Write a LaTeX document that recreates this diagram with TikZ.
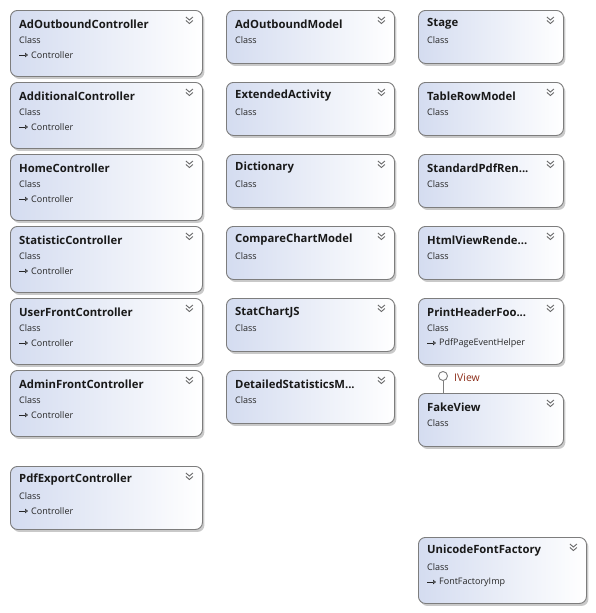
\documentclass[tikz,border=0pt]{standalone}
\usepackage{fontspec}
\setmainfont{Open Sans}
\usetikzlibrary{shadows,calc,arrows.meta}

\definecolor{boxedge}{RGB}{125,125,125}
\definecolor{boxfill}{RGB}{212,220,240}
\definecolor{ifacered}{RGB}{140,45,25}
\definecolor{chev}{RGB}{105,105,105}

\tikzset{
  classbox/.style={draw=boxedge, line width=0.9pt, rounded corners=7pt,
    left color=boxfill, right color=white, anchor=north west, inner sep=0pt,
    drop shadow={shadow xshift=2pt, shadow yshift=-2.5pt, fill=black!35, opacity=0.6}},
  titletext/.style={anchor=west, inner sep=0pt,
    font=\fontsize{11.3}{13}\selectfont\bfseries, text=black!90},
  kindtext/.style={anchor=west, inner sep=0pt,
    font=\fontsize{9}{11}\selectfont, text=black!85},
  basetext/.style={kindtext},
  inherit/.style={-{Triangle[open,length=3pt,width=4.5pt]}, line width=0.6pt, black!85},
  chevron/.style={chev, line width=0.9pt},
  lollipop/.style={circle, draw=boxedge, line width=0.9pt, fill=white,
    minimum size=9pt, inner sep=0pt},
  ifacelabel/.style={anchor=west, inner sep=0pt, text=ifacered,
    font=\fontsize{10.5}{12}\selectfont},
}

% one class shape: name, left, top, width, height, title
\newcommand{\umlclass}[6]{%
  \node[classbox, minimum width=#4pt, minimum height=#5pt] (#1) at (#2,#3) {};
  \node[titletext] (#1-t) at ($(#1.north west)+(9,14)$) {#6};
  \node[kindtext] (#1-k) at ($(#1.north west)+(9,30)$) {Class};
  \draw[chevron] ($(#1.north east)+(-17,7)$) -- ++(3.5,3) -- ++(3.5,-3);
  \draw[chevron] ($(#1.north east)+(-17,10.5)$) -- ++(3.5,3) -- ++(3.5,-3);
}
% base class line under a class shape: name, base class
\newcommand{\umlbase}[2]{%
  \coordinate (#1-a0) at ($(#1.north west)+(9,45)$);
  \coordinate (#1-a1) at ($(#1.north west)+(18,45)$);
  \draw[inherit] (#1-a0) -- (#1-a1);
  \node[basetext] (#1-b) at ($(#1.north west)+(21,45)$) {#2};
}

\begin{document}
\begin{tikzpicture}[x=1pt, y=-1pt]
\useasboundingbox (0,0) rectangle (595,613);
\fill[white] (0,0) rectangle (595,613);

% controllers
\umlclass{adoutctl}{10}{10}{192}{66}{AdOutboundController}
\umlbase{adoutctl}{Controller}
\umlclass{addctl}{10}{82}{192}{66}{AdditionalController}
\umlbase{addctl}{Controller}
\umlclass{homectl}{10}{154}{192}{66}{HomeController}
\umlbase{homectl}{Controller}
\umlclass{statctl}{10}{226}{192}{66}{StatisticController}
\umlbase{statctl}{Controller}
\umlclass{userctl}{10}{298}{192}{66}{UserFrontController}
\umlbase{userctl}{Controller}
\umlclass{adminctl}{10}{370}{192}{66}{AdminFrontController}
\umlbase{adminctl}{Controller}
\umlclass{pdfctl}{10}{466}{192}{63}{PdfExportController}
\umlbase{pdfctl}{Controller}

% models
\umlclass{admodel}{226}{10}{168}{53}{AdOutboundModel}
\umlclass{extact}{226}{82}{168}{53}{ExtendedActivity}
\umlclass{dict}{226}{154}{168}{53}{Dictionary}
\umlclass{cmpchart}{226}{226}{168}{53}{CompareChartModel}
\umlclass{statjs}{226}{298}{168}{53}{StatChartJS}
\umlclass{detstat}{226}{370}{168}{53}{DetailedStatisticsM...}

% helpers
\umlclass{stage}{418}{10}{145}{53}{Stage}
\umlclass{tablerow}{418}{82}{145}{53}{TableRowModel}
\umlclass{stdpdf}{418}{154}{145}{53}{StandardPdfRen...}
\umlclass{htmlview}{418}{226}{145}{53}{HtmlViewRende...}
\umlclass{printhf}{418}{298}{145}{66}{PrintHeaderFoo...}
\umlbase{printhf}{PdfPageEventHelper}
\umlclass{fakeview}{418}{393}{145}{53}{FakeView}
\umlclass{unifont}{418}{537}{168}{66}{UnicodeFontFactory}
\umlbase{unifont}{FontFactoryImp}

% IView interface implemented by FakeView
\node[lollipop] (iview) at (443,376) {};
\draw[boxedge, line width=0.9pt] (iview.south) -- (iview.south |- fakeview.north);
\node[ifacelabel] (iview-l) at (454,378) {IView};
\end{tikzpicture}
\end{document}
